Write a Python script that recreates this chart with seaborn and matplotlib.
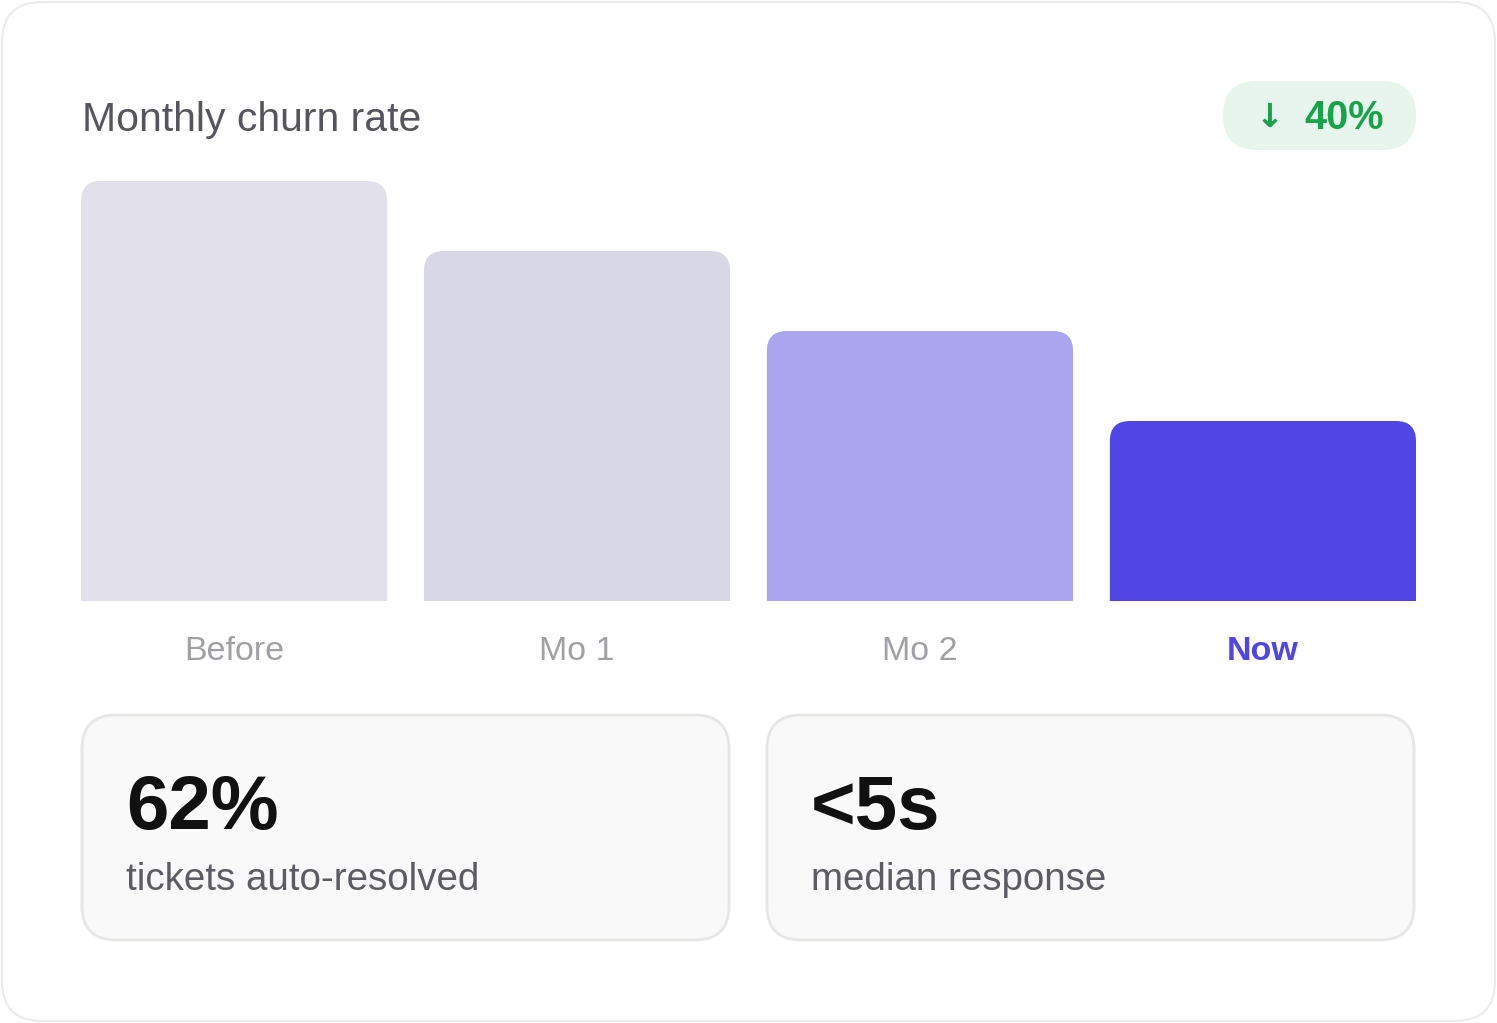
import seaborn as sns
import matplotlib.pyplot as plt
import pandas as pd
import numpy as np
from matplotlib.patches import FancyBboxPatch, PathPatch
from matplotlib.path import Path

# data
months = ['Before', 'Mo 1', 'Mo 2', 'Now']
churn = [4.2, 3.5, 2.7, 1.8]
bar_colors = ['#e1e0eb', '#d8d7e6', '#aaa5ee', '#4f46e5']
drop_label = '40%'
stats = ['62%', '<5s']
stat_labels = ['tickets auto-resolved', 'median response']

W, H = 1497, 1023
sns.set_theme(style='white')
plt.rcParams['font.family'] = ['Liberation Sans', 'DejaVu Sans']

fig = plt.figure(figsize=(W / 100, H / 100), dpi=100)
fig.patch.set_facecolor('white')

# background axes in pixel coords for card, badge, stat boxes
bg = fig.add_axes([0, 0, 1, 1])
bg.set_xlim(0, W)
bg.set_ylim(H, 0)
bg.axis('off')

bg.add_patch(FancyBboxPatch((2, 2), W - 4, H - 4, boxstyle='round,pad=0,rounding_size=40',
                            fc='white', ec='#ebebeb', lw=1.5))

bg.text(82, 120, 'Monthly churn rate', fontsize=29.5, color='#55555e', va='center', ha='left')

# badge
bg.add_patch(FancyBboxPatch((1223, 81), 193, 69, boxstyle='round,pad=0,rounding_size=34',
                            fc='#e7f5ec', ec='none'))
bg.text(1270, 117, '↓', fontsize=24, color='#16a34a', va='center', ha='center',
        family=['DejaVu Sans'], fontweight='bold')
bg.text(1304, 118, drop_label, fontsize=28.5, color='#16a34a', va='center', ha='left',
        fontweight='bold')

# stat cards
for i, (val, lab) in enumerate(zip(stats, stat_labels)):
    x0 = 82 + i * 685
    bg.add_patch(FancyBboxPatch((x0, 715), 647, 225, boxstyle='round,pad=0,rounding_size=34',
                                fc='#f9f9f9', ec='#e6e6e4', lw=2))
    bg.text(x0 + 44, 810, val, fontsize=55, color='#111111', va='center', ha='left',
            fontweight='bold')
    bg.text(x0 + 44, 880, lab, fontsize=27.7, color='#5c5c63', va='center', ha='left')

# bar chart
bw = 306 / 342.8
ax = fig.add_axes([81 / W, (H - 601) / H, 1335 / W, 420 / H])
ax.patch.set_alpha(0)
df = pd.DataFrame({'month': months, 'churn': churn})
sns.barplot(data=df, x='month', y='churn', hue='month', palette=bar_colors,
            saturation=1, width=bw, legend=False, ax=ax)
ax.set_xlim(-bw / 2, 3 + bw / 2)
ax.set_ylim(0, max(churn))
ax.set_xlabel('')
ax.set_ylabel('')
ax.set_yticks([])
sns.despine(ax=ax, left=True, bottom=True)
ax.tick_params(axis='x', length=0, pad=25, labelsize=24.5, labelcolor='#a0a0a6')
for t in ax.get_xticklabels():
    if t.get_text() == 'Now':
        t.set_color('#4f46e5')
        t.set_fontweight('bold')

# rounded top corners
rx = 20 / 342.8
ry = 20 / (420 / max(churn))
for p in list(ax.patches):
    x0, w, h = p.get_x(), p.get_width(), p.get_height()
    x1 = x0 + w
    verts = [(x0, 0), (x0, h - ry), (x0, h), (x0 + rx, h), (x1 - rx, h),
             (x1, h), (x1, h - ry), (x1, 0), (x0, 0)]
    codes = [Path.MOVETO, Path.LINETO, Path.CURVE3, Path.CURVE3, Path.LINETO,
             Path.CURVE3, Path.CURVE3, Path.LINETO, Path.CLOSEPOLY]
    ax.add_patch(PathPatch(Path(verts, codes), fc=p.get_facecolor(), ec='none'))
    p.set_visible(False)

fig.savefig('out.png', dpi=100)
